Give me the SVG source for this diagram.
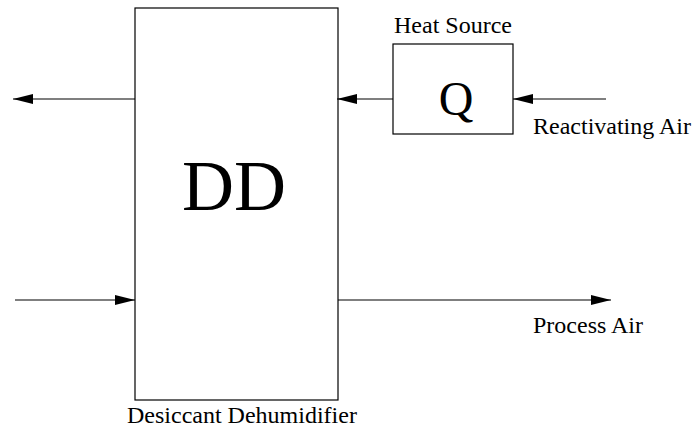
<svg xmlns="http://www.w3.org/2000/svg" width="696" height="430" viewBox="0 0 696 430">
<style>
.box{fill:none;stroke:#000;stroke-width:1.2}
.lbl{font-family:"Liberation Serif",serif;font-size:24px;fill:#000}
.big{font-family:"Liberation Serif",serif;fill:#000;text-anchor:middle}
.conn{stroke:#000;stroke-width:1.2;fill:none;marker-end:url(#ah)}
</style>
<defs>
<marker id="ah" markerUnits="userSpaceOnUse" markerWidth="22" markerHeight="12" refX="20" refY="5" orient="auto">
<path d="M0,0 L20,5 L0,10 Z" fill="#000"/>
</marker>
</defs>
<rect width="696" height="430" fill="#fff"/>
<g id="dd">
<rect class="box" x="135" y="8" width="203" height="392"/>
<text class="big" x="234" y="210" font-size="72">DD</text>
<text class="lbl" x="127" y="423">Desiccant Dehumidifier</text>
</g>
<g id="heat-source">
<rect class="box" x="393" y="44" width="120" height="90"/>
<text class="big" x="456" y="115" font-size="48">Q</text>
<text class="lbl" x="394" y="33">Heat Source</text>
</g>
<g id="labels">
<text class="lbl" x="533" y="134">Reactivating Air</text>
<text class="lbl" x="533" y="333">Process Air</text>
</g>
<g id="connectors">
<line class="conn" x1="135" y1="99" x2="13" y2="99"/>
<line class="conn" x1="393" y1="99" x2="337" y2="99"/>
<line class="conn" x1="606" y1="99" x2="513" y2="99"/>
<line class="conn" x1="15" y1="300" x2="135" y2="300"/>
<line class="conn" x1="338" y1="300" x2="611" y2="300"/>
</g>
</svg>
